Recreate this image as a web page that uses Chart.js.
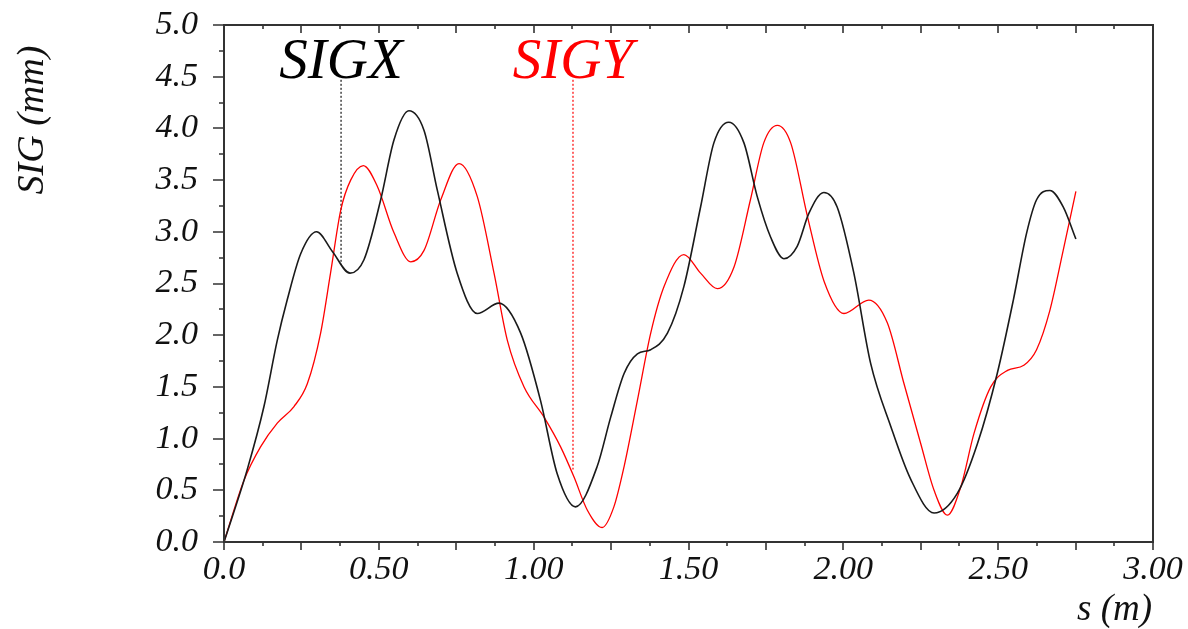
<!DOCTYPE html>
<html><head><meta charset="utf-8">
<script src="https://cdn.jsdelivr.net/npm/chart.js@4.4.1/dist/chart.umd.min.js"></script>
<style>html,body{margin:0;padding:0;background:#fff}canvas{display:block}
#fp{position:absolute;left:-9999px;top:0;font:italic 30px 'Liberation Serif'}</style>
</head><body>
<div id="fp">SIG 0.5 s (m)</div>
<canvas id="c" width="1188" height="629"></canvas>
<script>
// ---- data ----
const seriesNames = ['SIGX', 'SIGY'];
const sigxS = [0, 0.075, 0.129, 0.172, 0.204, 0.248, 0.299, 0.350, 0.407, 0.452, 0.506, 0.549, 0.597, 0.646, 0.689, 0.753, 0.818, 0.888, 0.958, 1.022, 1.076, 1.135, 1.205, 1.249, 1.292, 1.335, 1.378, 1.432, 1.485, 1.539, 1.582, 1.630, 1.679, 1.722, 1.765, 1.808, 1.851, 1.889, 1.937, 1.980, 2.034, 2.088, 2.153, 2.217, 2.293, 2.368, 2.433, 2.497, 2.549, 2.592, 2.624, 2.667, 2.710, 2.751];
const sigxY = [0, 0.70, 1.31, 1.95, 2.34, 2.79, 3.00, 2.81, 2.60, 2.73, 3.31, 3.89, 4.17, 3.98, 3.40, 2.60, 2.21, 2.31, 2.02, 1.37, 0.66, 0.34, 0.73, 1.21, 1.63, 1.82, 1.86, 2.02, 2.47, 3.24, 3.86, 4.06, 3.86, 3.34, 2.95, 2.74, 2.86, 3.18, 3.38, 3.24, 2.60, 1.73, 1.12, 0.61, 0.28, 0.47, 0.95, 1.63, 2.34, 2.99, 3.31, 3.40, 3.24, 2.93];
const sigyS = [0, 0.065, 0.118, 0.172, 0.226, 0.269, 0.312, 0.344, 0.377, 0.409, 0.450, 0.495, 0.549, 0.603, 0.646, 0.700, 0.759, 0.818, 0.872, 0.915, 0.969, 1.033, 1.087, 1.130, 1.173, 1.221, 1.259, 1.292, 1.335, 1.378, 1.421, 1.485, 1.539, 1.593, 1.647, 1.700, 1.743, 1.787, 1.830, 1.884, 1.938, 2.002, 2.082, 2.142, 2.196, 2.250, 2.293, 2.336, 2.379, 2.422, 2.476, 2.530, 2.583, 2.624, 2.667, 2.710, 2.751];
const sigyY = [0, 0.60, 0.92, 1.15, 1.31, 1.53, 2.02, 2.60, 3.21, 3.50, 3.64, 3.44, 2.99, 2.71, 2.82, 3.31, 3.66, 3.34, 2.60, 1.95, 1.50, 1.21, 0.92, 0.63, 0.31, 0.14, 0.34, 0.73, 1.37, 2.02, 2.47, 2.78, 2.60, 2.45, 2.66, 3.31, 3.86, 4.03, 3.86, 3.15, 2.52, 2.21, 2.34, 2.12, 1.53, 0.95, 0.50, 0.26, 0.53, 1.05, 1.50, 1.66, 1.71, 1.86, 2.24, 2.82, 3.39];
// label marker leaders (dotted)
const sigxMarkerS = [0.378, 0.378];
const sigxMarkerY = [4.47, 2.68];
const sigyMarkerS = [1.127, 1.127];
const sigyMarkerY = [4.47, 0.70];
// tick labels
const xTickLabels = ['0.0', '0.50', '1.00', '1.50', '2.00', '2.50', '3.00'];
const yTickLabels = ['0.0', '0.5', '1.0', '1.5', '2.0', '2.5', '3.0', '3.5', '4.0', '4.5', '5.0'];
const xTitle = 's (m)';
const yTitle = 'SIG (mm)';

const pts = (xs, ys) => xs.map((v, i) => ({x: v, y: ys[i]}));
const FONT = "'Liberation Serif', 'Times New Roman', serif";

const framePlugin = {
  id: 'frame',
  afterDraw(chart) {
    const {ctx, chartArea: a, scales: {x, y}} = chart;
    ctx.save();
    ctx.strokeStyle = '#333';
    ctx.lineWidth = 2;
    ctx.strokeRect(a.left, a.top, a.right - a.left, a.bottom - a.top);
    ctx.lineWidth = 1.6;
    ctx.beginPath();
    for (let i = 0; i <= 20; i++) {
      const py = Math.round(y.getPixelForValue(i * 0.25));
      const len = i % 2 === 0 ? 11 : 5;
      ctx.moveTo(a.left, py); ctx.lineTo(a.left - len, py);
    }
    for (let i = 0; i <= 24; i++) {
      const px = Math.round(x.getPixelForValue(i * 0.125));
      const len = i % 2 === 0 ? 8 : 4;
      ctx.moveTo(px, a.bottom); ctx.lineTo(px, a.bottom + len);
      ctx.moveTo(px, a.top); ctx.lineTo(px, a.top + len);
    }
    ctx.stroke();

    // series labels
    ctx.font = 'italic 57px ' + FONT;
    ctx.textAlign = 'center';
    ctx.textBaseline = 'alphabetic';
    ctx.fillStyle = '#000';
    ctx.fillText(seriesNames[0], x.getPixelForValue(sigxMarkerS[0]), y.getPixelForValue(sigxMarkerY[0]) - 2);
    ctx.fillStyle = '#ff0000';
    ctx.fillText(seriesNames[1], x.getPixelForValue(sigyMarkerS[0]), y.getPixelForValue(sigyMarkerY[0]) - 2);

    // axis titles
    ctx.fillStyle = '#111';
    ctx.font = 'italic 37px ' + FONT;
    ctx.textAlign = 'right';
    ctx.fillText(xTitle, 1152, 620);
    ctx.save();
    ctx.translate(43, 120);
    ctx.rotate(-Math.PI / 2);
    ctx.font = 'italic 38px ' + FONT;
    ctx.textAlign = 'center';
    ctx.fillText(yTitle, 0, 0);
    ctx.restore();
    ctx.restore();
  }
};

function draw() {
  new Chart(document.getElementById('c'), {
    type: 'line',
    data: {
      datasets: [
        {label: seriesNames[0], data: pts(sigxS, sigxY), borderColor: '#1a1a1a', borderWidth: 1.6, pointRadius: 0, cubicInterpolationMode: 'monotone'},
        {label: seriesNames[1], data: pts(sigyS, sigyY), borderColor: '#ff0000', borderWidth: 1.3, pointRadius: 0, cubicInterpolationMode: 'monotone'},
        {label: 'mx', data: pts(sigxMarkerS, sigxMarkerY), borderColor: '#111', borderWidth: 1.2, borderDash: [2, 2], pointRadius: 0},
        {label: 'my', data: pts(sigyMarkerS, sigyMarkerY), borderColor: '#ff0000', borderWidth: 1.2, borderDash: [2, 2], pointRadius: 0}
      ]
    },
    options: {
      responsive: false,
      animation: false,
      events: [],
      layout: {padding: {left: 0, top: 25, right: 35, bottom: 0}},
      plugins: {legend: {display: false}, tooltip: {enabled: false}},
      scales: {
        x: {
          type: 'linear', min: 0, max: 3,
          grid: {display: false, drawTicks: false},
          border: {display: false},
          ticks: {
            stepSize: 0.5, autoSkip: false, maxRotation: 0, padding: 8,
            color: '#111', font: {family: FONT, style: 'italic', size: 34},
            callback: (v) => { const i = Math.round(v / 0.5); return Math.abs(v - i * 0.5) < 1e-6 ? xTickLabels[i] : ''; }
          },
          afterFit: (s) => { s.height = 87; s.paddingLeft = 0; s.paddingRight = 0; }
        },
        y: {
          type: 'linear', min: 0, max: 5,
          grid: {display: false, drawTicks: false},
          border: {display: false},
          ticks: {
            stepSize: 0.5, autoSkip: false, padding: 26,
            color: '#111', font: {family: FONT, style: 'italic', size: 34},
            callback: (v) => { const i = Math.round(v / 0.5); return Math.abs(v - i * 0.5) < 1e-6 ? yTickLabels[i] : ''; }
          },
          afterFit: (s) => { s.width = 224; s.paddingTop = 0; s.paddingBottom = 0; }
        }
      }
    },
    plugins: [framePlugin]
  });
}
if (document.fonts && document.fonts.load) {
  Promise.all([
    document.fonts.load("italic 34px 'Liberation Serif'"),
    document.fonts.load("italic 57px 'Liberation Serif'")
  ]).then(draw, draw);
} else { draw(); }
</script>
</body></html>
